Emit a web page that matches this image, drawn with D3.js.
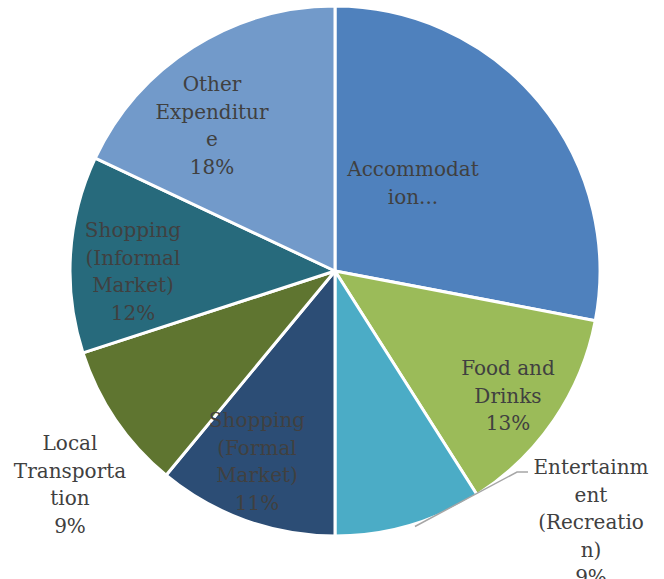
<!DOCTYPE html>
<html>
<head>
<meta charset="utf-8">
<script src="https://cdn.jsdelivr.net/npm/d3@7/dist/d3.min.js"></script>
<style>
  html, body { margin: 0; padding: 0; background: #ffffff; }
  svg { display: block; }
</style>
</head>
<body>
<svg id="chart" width="664" height="579"></svg>
<script>
// ---- data ----
const categories = [
  "Accommodation",
  "Food and Drinks",
  "Entertainment (Recreation)",
  "Shopping (Formal Market)",
  "Local Transportation",
  "Shopping (Informal Market)",
  "Other Expenditure"
];
const values = [28, 13, 9, 11, 9, 12, 18];
const labelLines = [
  ["Accommodat", "ion..."],
  ["Food and", "Drinks", "13%"],
  ["Entertainm", "ent", "(Recreatio", "n)", "9%"],
  ["Shopping", "(Formal", "Market)", "11%"],
  ["Local", "Transporta", "tion", "9%"],
  ["Shopping", "(Informal", "Market)", "12%"],
  ["Other", "Expenditur", "e", "18%"]
];
const colors = ["#4F81BD", "#9BBB59", "#4BACC6", "#2C4D75", "#5F7530", "#276A7C", "#729ACA"];

// ---- layout (label block first-line centre, relative to pie centre) ----
const cx = 335, cy = 271, R = 265;
const labelOffsets = [
  [78, -102], [173, 97], [256, 196], [-78, 149], [-265, 172], [-202, -41], [-123, -187]
];
const lineH = 27.6;

const svg = d3.select("#chart");
const g = svg.append("g").attr("transform", `translate(${cx},${cy})`);

const pie = d3.pie().sort(null).value(d => d)
  .startAngle(0).endAngle(2 * Math.PI);
const arcs = pie(values);
const arc = d3.arc().innerRadius(0).outerRadius(R);

g.selectAll("path.slice")
  .data(arcs)
  .join("path")
  .attr("class", "slice")
  .attr("d", arc)
  .attr("fill", (d, i) => colors[i])
  .attr("stroke", "#ffffff")
  .attr("stroke-width", 3)
  .attr("stroke-linejoin", "round");

// leader line for the entertainment label
const ent = arcs[2];
const mid = (ent.startAngle + ent.endAngle) / 2;
const p0 = [R * Math.sin(mid) + 6, -R * Math.cos(mid) + 1];
const lo = labelOffsets[2];
const p1 = [lo[0] - 74, lo[1] + 5];
const p2 = [lo[0] - 63, lo[1] + 5];
g.append("polyline")
  .attr("points", [p0, p1, p2].map(p => p.join(",")).join(" "))
  .attr("fill", "none")
  .attr("stroke", "#A6A6A6")
  .attr("stroke-width", 1.5);

// labels
arcs.forEach((d, i) => {
  const [ox, oy] = labelOffsets[i];
  const t = g.append("text")
    .attr("font-family", "'DejaVu Serif', serif")
    .attr("font-size", 20)
    .attr("fill", "#404040")
    .attr("text-anchor", "middle");
  labelLines[i].forEach((line, k) => {
    t.append("tspan")
      .attr("x", ox)
      .attr("y", oy + k * lineH)
      .attr("dominant-baseline", "central")
      .text(line);
  });
});
</script>
</body>
</html>
